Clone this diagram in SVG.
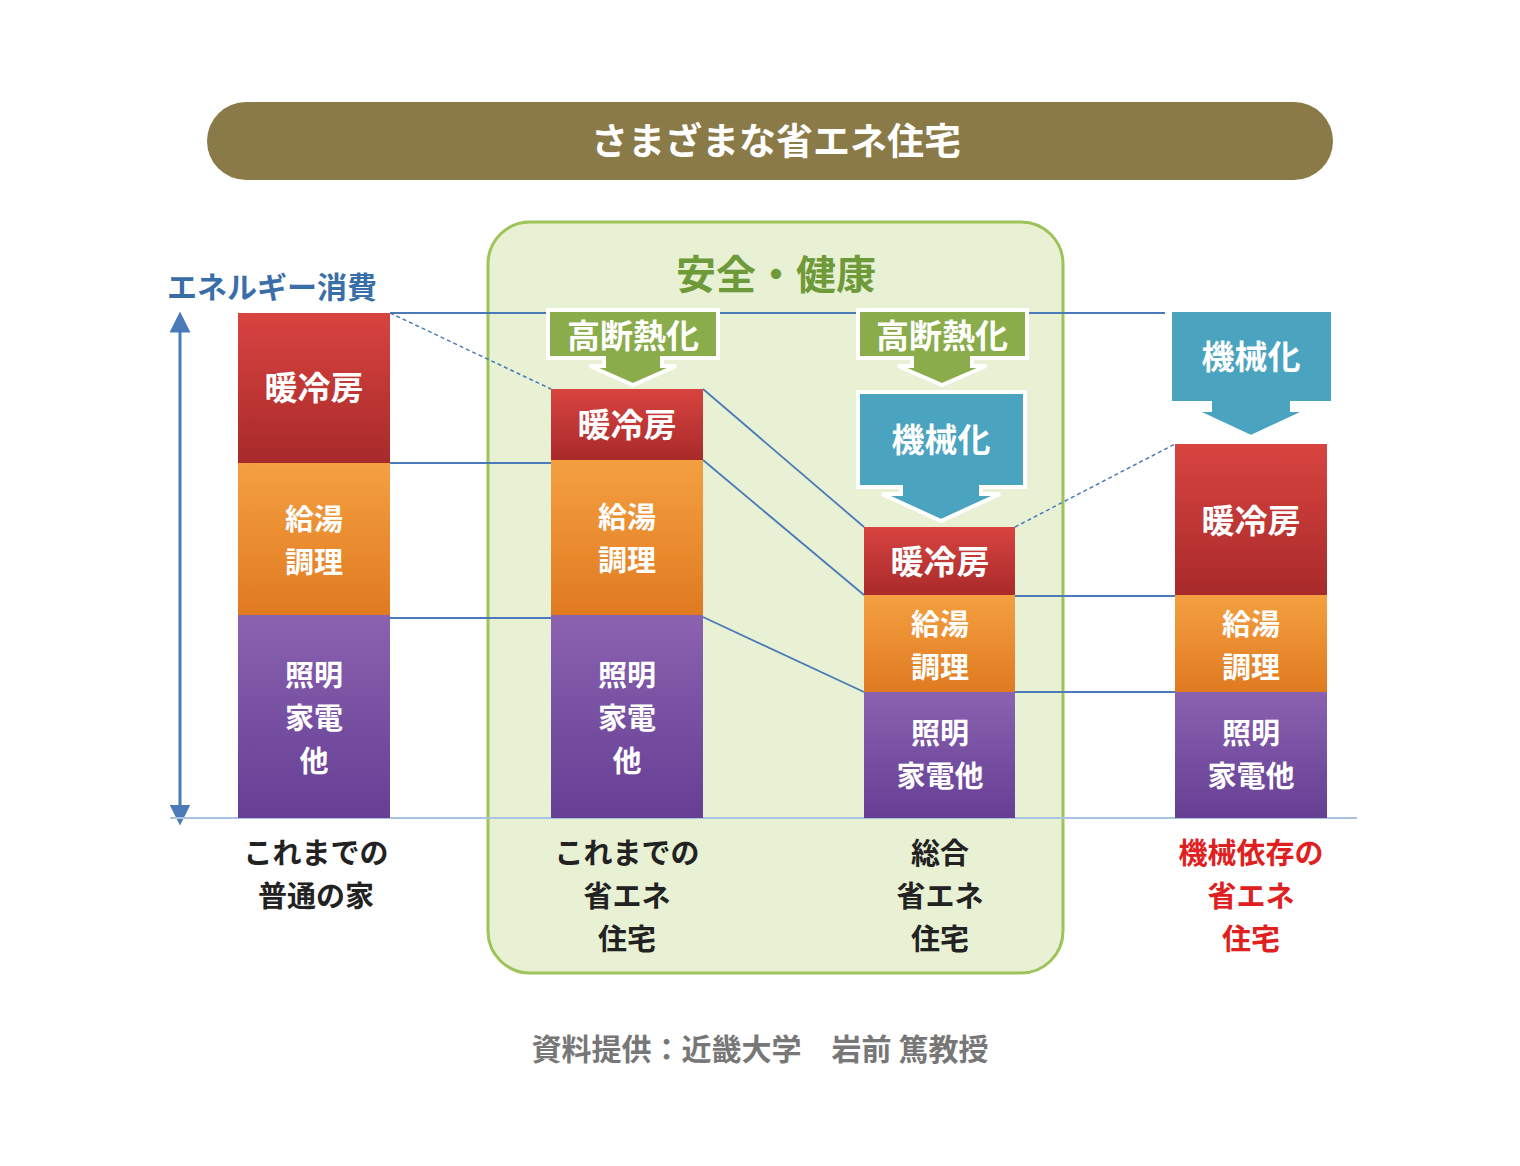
<svg xmlns="http://www.w3.org/2000/svg" width="1520" height="1166" viewBox="0 0 1520 1166">
<defs>
<linearGradient id="gr" x1="0" y1="0" x2="0" y2="1"><stop offset="0" stop-color="#d84440"/><stop offset="1" stop-color="#a82a2a"/></linearGradient>
<linearGradient id="go" x1="0" y1="0" x2="0" y2="1"><stop offset="0" stop-color="#f4a040"/><stop offset="1" stop-color="#e07a20"/></linearGradient>
<linearGradient id="gp" x1="0" y1="0" x2="0" y2="1"><stop offset="0" stop-color="#8a62b0"/><stop offset="1" stop-color="#663e94"/></linearGradient>
<marker id="ah" viewBox="0 0 10 10" refX="5" refY="5" markerWidth="7" markerHeight="7" orient="auto-start-reverse"><path d="M0,0 L10,5 L0,10 z" fill="#4a7ab8"/></marker>
</defs>
<style>
text{font-family:"Noto Sans CJK JP","Noto Sans",sans-serif;text-anchor:middle;font-weight:bold}
.w{fill:#fff;font-size:33px}
.s{fill:#fff;font-size:29px}
.lb{fill:#222;font-size:29px}
.ln{stroke:#4a7ab8;stroke-width:1.8;fill:none}
.dl{stroke:#4a7ab8;stroke-width:1.5;fill:none;stroke-dasharray:4 3}
.gl{fill:#8aac4a;stroke:#fff;stroke-width:4}
.bl{fill:#4aa3bf;stroke:#fff;stroke-width:4}
</style>
<rect width="1520" height="1166" fill="#fff"/>
<g id="banner"><rect x="207" y="102" width="1126" height="78" rx="39" fill="#8a7a48"/><text x="776" y="155" fill="#fff" font-size="37" font-weight="normal">さまざまな省エネ住宅</text></g>
<g id="panel"><rect x="488" y="222" width="575" height="751" rx="42" fill="#e8f1d4" stroke="#9dc35a" stroke-width="3"/><text x="776" y="289" fill="#6e9a3a" font-size="40">安全・健康</text></g>
<g id="axis"><line x1="180" y1="815" x2="180" y2="322" stroke="#4a7ab8" stroke-width="3" marker-end="url(#ah)" marker-start="url(#ah)"/><text x="272" y="298" fill="#3a6ea8" font-size="30" font-weight="normal">エネルギー消費</text><line x1="170" y1="818" x2="1357" y2="818" stroke="#a8c4e0" stroke-width="2"/></g>
<g id="connectors">
<line class="ln" x1="390" y1="313" x2="1165" y2="313"/>
<line class="dl" x1="390" y1="313" x2="551" y2="389"/>
<line class="ln" x1="703" y1="389" x2="864" y2="527"/>
<line class="dl" x1="1015" y1="527" x2="1175" y2="444"/>
<line class="ln" x1="390" y1="463" x2="551" y2="463"/>
<line class="ln" x1="703" y1="460" x2="864" y2="595"/>
<line class="ln" x1="1015" y1="596" x2="1175" y2="596"/>
<line class="ln" x1="390" y1="618" x2="551" y2="618"/>
<line class="ln" x1="703" y1="617" x2="864" y2="692"/>
<line class="ln" x1="1015" y1="692" x2="1175" y2="692"/>
</g>
<g id="col1">
<rect x="238" y="313" width="152" height="150" fill="url(#gr)"/><text class="w" x="314" y="400">暖冷房</text>
<rect x="238" y="463" width="152" height="152" fill="url(#go)"/><text class="s" x="314" y="530">給湯</text><text class="s" x="314" y="573">調理</text>
<rect x="238" y="615" width="152" height="203" fill="url(#gp)"/><text class="s" x="314" y="686">照明</text><text class="s" x="314" y="729">家電</text><text class="s" x="314" y="772">他</text>
<text class="lb" x="316" y="864" font-size="32" font-weight="normal">これまでの</text><text class="lb" x="316" y="907" font-weight="normal">普通の家</text>
</g>
<g id="col2">
<rect x="551" y="389" width="152" height="71" fill="url(#gr)"/><text class="w" x="627" y="437">暖冷房</text>
<rect x="551" y="460" width="152" height="155" fill="url(#go)"/><text class="s" x="627" y="528">給湯</text><text class="s" x="627" y="571">調理</text>
<rect x="551" y="615" width="152" height="203" fill="url(#gp)"/><text class="s" x="627" y="686">照明</text><text class="s" x="627" y="729">家電</text><text class="s" x="627" y="772">他</text>
<text class="lb" x="627" y="864">これまでの</text><text class="lb" x="627" y="907">省エネ</text><text class="lb" x="627" y="950">住宅</text>
</g>
<g id="col3">
<rect x="864" y="527" width="151" height="68" fill="url(#gr)"/><text class="w" x="940" y="574">暖冷房</text>
<rect x="864" y="595" width="151" height="97" fill="url(#go)"/><text class="s" x="940" y="635">給湯</text><text class="s" x="940" y="678">調理</text>
<rect x="864" y="692" width="151" height="126" fill="url(#gp)"/><text class="s" x="940" y="744">照明</text><text class="s" x="940" y="787">家電他</text>
<text class="lb" x="940" y="864">総合</text><text class="lb" x="940" y="907">省エネ</text><text class="lb" x="940" y="950">住宅</text>
</g>
<g id="col4">
<rect x="1175" y="444" width="152" height="151" fill="url(#gr)"/><text class="w" x="1251" y="533">暖冷房</text>
<rect x="1175" y="595" width="152" height="97" fill="url(#go)"/><text class="s" x="1251" y="635">給湯</text><text class="s" x="1251" y="678">調理</text>
<rect x="1175" y="692" width="152" height="126" fill="url(#gp)"/><text class="s" x="1251" y="744">照明</text><text class="s" x="1251" y="787">家電他</text>
<text x="1251" y="864" fill="#e02020" font-size="29">機械依存の</text><text x="1251" y="907" fill="#e02020" font-size="29">省エネ</text><text x="1251" y="950" fill="#e02020" font-size="29">住宅</text>
</g>
<g id="insul1"><path class="gl" d="M548,310 H718 V358 H662 V366 H676 L633,385 L590,366 H604 V358 H548 Z"/><text class="w" x="633" y="348" font-weight="normal">高断熱化</text></g>
<g id="insul2"><path class="gl" d="M858,310 H1027 V358 H972 V366 H986 L942,385 L898,366 H912 V358 H858 Z"/><text class="w" x="942" y="348" font-weight="normal">高断熱化</text></g>
<g id="mech1"><path class="bl" d="M858,392 H1025 V487 H981 V494 H1000 L941,521 L882,494 H901 V487 H858 Z"/><text class="w" x="941" y="452" font-weight="normal">機械化</text></g>
<g id="mech2"><path class="bl" d="M1170,310 H1333 V403 H1292 V410 H1309 L1251,437 L1193,410 H1210 V403 H1170 Z"/><text class="w" x="1251" y="369" font-weight="normal">機械化</text></g>
<text x="760" y="1060" fill="#777" font-size="30" font-weight="normal">資料提供：近畿大学　岩前 篤教授</text>
</svg>
